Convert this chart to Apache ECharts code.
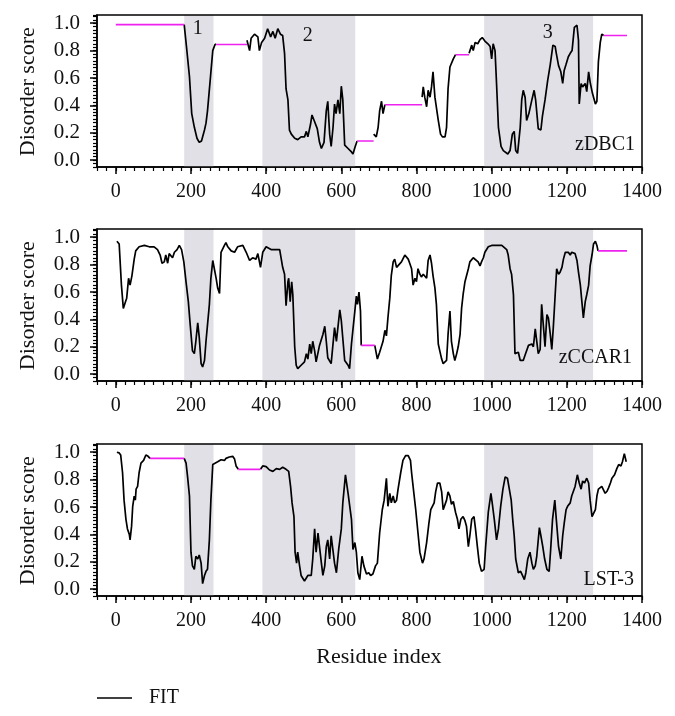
<!DOCTYPE html>
<html>
<head>
<meta charset="utf-8">
<script src="https://cdn.jsdelivr.net/npm/echarts@6/dist/echarts.min.js"></script>
<style>html,body{margin:0;padding:0;background:#fff}#c{width:675px;height:716px}</style>
</head>
<body>
<div id="c"></div>
<script>
// ---- data ----
const panelNames = ['zDBC1', 'zCCAR1', 'LST-3'];
const xTickLabels = [0, 200, 400, 600, 800, 1000, 1200, 1400];
const yTickLabels = [0, 0.2, 0.4, 0.6, 0.8, 1.0];
const domains = [[182, 260, '1'], [390, 637, '2'], [980, 1270, '3']];
const domainLabelPos = [[218, 0.96], [511, 0.91], [1149, 0.93]];

const dbc1 = [
[182,.99],[188,.83],[196,.61],[202,.34],[209,.24],[216,.16],[222,.13],[228,.14],[236,.22],[240,.27],[244,.36],[252,.61],[258,.80],[264,.845],[267,.845],
null,
[349,.876],[356,.80],[360,.89],[364,.88],[369,.92],[378,.90],[382,.80],[388,.86],[396,.89],[404,.96],[412,.90],[418,.94],[424,.89],[431,.96],[438,.92],[444,.91],[449,.78],[453,.52],[458,.44],[462,.22],[467,.19],[476,.16],[484,.15],[493,.17],[502,.17],[507,.21],[511,.17],[518,.26],[522,.33],[529,.28],[536,.23],[542,.13],[547,.085],[554,.13],[560,.36],[564,.43],[569,.19],[573,.10],[578,.24],[582,.41],[586,.34],[591,.44],[596,.34],[600,.54],[604,.44],[609,.11],[618,.085],[627,.06],[631,.045],[637,.10],[642,.14],
null,
[686,.19],[693,.17],[698,.24],[702,.36],[707,.43],[711,.34],[716,.405],
null,
[815,.46],[818,.535],[822,.46],[827,.39],[831,.51],[836,.46],[840,.535],[844,.645],[849,.46],[858,.29],[864,.19],[869,.17],[876,.17],[880,.24],[884,.52],[889,.68],[898,.74],[904,.77],
null,
[940,.78],[947,.84],[951,.80],[956,.86],[963,.85],[969,.88],[975,.895],[982,.87],[990,.85],[996,.83],[1000,.74],[1004,.85],[1009,.80],[1013,.56],[1018,.24],[1025,.10],[1031,.07],[1036,.08],[1043,.045],[1049,.07],[1055,.19],[1060,.21],[1064,.07],[1069,.05],[1076,.24],[1080,.44],[1084,.51],[1089,.46],[1093,.29],[1099,.34],[1107,.44],[1113,.51],[1117,.44],[1124,.23],[1131,.22],[1135,.32],[1142,.44],[1149,.58],[1156,.70],[1163,.84],[1169,.83],[1172,.78],[1178,.69],[1184,.645],[1189,.56],[1193,.655],[1198,.70],[1204,.755],[1209,.78],[1214,.80],[1218,.80],[1220,.97],[1227,.985],[1231,.875],[1233,.41],[1238,.56],[1242,.535],[1249,.56],[1253,.50],[1258,.645],[1262,.57],[1268,.49],[1276,.41],[1280,.43],[1284,.72],[1289,.86],[1293,.92],[1298,.91]
];
const dbc1Missing = [[0,182,.99],[267,349,.845],[642,686,.14],[716,815,.405],[904,940,.77],[1298,1360,.91]];

const ccar1 = [
[3,.97],[9,.95],[12,.95],[15,.65],[20,.48],[26,.53],[29,.555],[34,.70],[38,.65],[43,.72],[49,.84],[53,.90],[62,.93],[76,.94],[89,.93],[102,.93],[111,.91],[118,.87],[123,.81],[129,.82],[133,.87],[138,.81],[142,.88],[147,.87],[151,.85],[156,.89],[163,.91],[169,.94],[175,.91],[181,.82],[187,.67],[193,.53],[198,.36],[204,.17],[209,.15],[213,.24],[218,.375],[222,.27],[227,.077],[231,.053],[236,.10],[240,.24],[244,.36],[249,.51],[253,.70],[258,.83],[262,.83],[267,.70],[271,.63],[276,.59],[280,.89],[284,.88],[289,.94],[293,.96],[298,.93],[307,.90],[316,.89],[324,.93],[338,.94],[347,.89],[356,.83],[364,.85],[373,.84],[378,.88],[385,.78],[391,.89],[400,.93],[413,.91],[427,.91],[436,.91],[444,.78],[449,.73],[453,.50],[458,.675],[460,.70],[464,.53],[468,.675],[471,.58],[476,.20],[480,.065],[484,.04],[493,.065],[502,.09],[507,.15],[511,.11],[516,.22],[520,.15],[524,.24],[529,.17],[533,.09],[542,.21],[547,.22],[551,.29],[556,.35],[560,.24],[564,.12],[573,.077],[582,.34],[587,.24],[596,.47],[600,.39],[609,.10],[618,.065],[622,.04],[627,.22],[636,.46],[640,.57],[643,.51],[647,.60],[651,.46],[653,.21],
null,
[689,.21],[696,.11],[702,.16],[707,.17],[711,.24],[716,.32],[720,.28],[724,.41],[729,.555],[733,.72],[738,.82],[742,.84],[747,.78],[751,.77],[760,.82],[769,.87],[773,.86],[778,.84],[782,.81],[787,.77],[791,.65],[796,.70],[800,.675],[804,.77],[809,.73],[813,.71],[818,.73],[822,.72],[827,.70],[831,.83],[836,.87],[840,.81],[844,.72],[849,.63],[853,.51],[858,.22],[862,.17],[867,.11],[871,.077],[876,.065],[880,.10],[884,.29],[889,.46],[893,.24],[898,.15],[902,.10],[907,.15],[911,.20],[916,.29],[920,.48],[924,.58],[929,.675],[933,.675],[938,.77],[942,.82],[951,.85],[956,.84],[964,.82],[969,.79],[973,.82],[978,.85],[982,.89],[991,.93],[1000,.94],[1013,.94],[1027,.94],[1040,.91],[1044,.87],[1049,.77],[1053,.73],[1058,.58],[1062,.15],[1067,.14],[1071,.16],[1076,.10],[1080,.09],[1084,.10],[1089,.14],[1098,.21],[1102,.20],[1107,.22],[1111,.20],[1116,.33],[1120,.24],[1124,.15],[1129,.18],[1133,.51],[1138,.34],[1142,.20],[1147,.435],[1151,.41],[1156,.29],[1160,.18],[1164,.34],[1169,.58],[1173,.77],[1178,.73],[1182,.745],[1187,.78],[1191,.84],[1196,.89],[1200,.90],[1204,.89],[1209,.87],[1213,.89],[1218,.90],[1222,.88],[1227,.83],[1231,.745],[1236,.65],[1240,.53],[1244,.41],[1249,.53],[1253,.58],[1258,.65],[1262,.79],[1267,.87],[1271,.95],[1276,.97],[1280,.94],[1283,.90]
];
const ccar1Missing = [[653,689,.21],[1283,1360,.90]];

const lst3 = [
[3,1.0],[9,.995],[13,.98],[18,.85],[22,.65],[27,.51],[31,.44],[36,.40],[38,.36],[42,.46],[45,.605],[49,.68],[52,.65],[54,.73],[58,.75],[62,.85],[67,.92],[74,.94],[80,.98],[86,.97],[91,.955],
null,
[182,.955],[187,.92],[191,.82],[196,.68],[200,.27],[204,.17],[209,.145],[213,.24],[218,.22],[222,.25],[227,.19],[231,.04],[236,.10],[240,.13],[244,.145],[249,.36],[253,.65],[258,.91],[262,.92],[271,.93],[280,.945],[289,.94],[293,.955],[302,.965],[311,.97],[316,.95],[320,.90],[326,.875],
null,
[385,.875],[391,.90],[400,.895],[409,.87],[418,.86],[427,.88],[436,.875],[444,.89],[453,.875],[460,.86],[465,.75],[469,.63],[474,.53],[477,.27],[481,.19],[484,.27],[489,.17],[493,.10],[502,.06],[511,.10],[520,.10],[524,.22],[529,.44],[533,.27],[538,.41],[542,.31],[547,.19],[551,.10],[556,.17],[560,.31],[564,.36],[569,.22],[573,.39],[582,.19],[587,.12],[593,.29],[600,.44],[604,.63],[611,.835],[618,.70],[627,.51],[631,.29],[636,.34],[640,.27],[644,.12],[649,.07],[655,.24],[660,.17],[667,.11],[673,.12],[678,.10],[684,.11],[691,.17],[696,.19],[702,.41],[709,.58],[714,.65],[720,.81],[724,.605],[729,.70],[733,.63],[738,.68],[742,.63],[747,.65],[751,.73],[758,.85],[764,.94],[771,.975],[778,.975],[784,.94],[787,.85],[791,.75],[798,.58],[804,.41],[809,.27],[816,.19],[820,.22],[827,.34],[833,.48],[838,.58],[842,.59],[847,.63],[851,.71],[856,.775],[862,.775],[867,.71],[871,.58],[876,.58],[880,.65],[884,.71],[889,.68],[893,.62],[898,.64],[904,.56],[909,.51],[913,.44],[918,.51],[924,.53],[929,.50],[933,.46],[938,.31],[942,.39],[947,.51],[953,.53],[957,.44],[962,.31],[967,.19],[973,.13],[980,.145],[984,.31],[991,.56],[998,.70],[1001,.64],[1007,.51],[1013,.36],[1018,.44],[1024,.605],[1030,.73],[1036,.82],[1042,.81],[1047,.73],[1052,.65],[1056,.51],[1060,.39],[1064,.22],[1071,.12],[1077,.13],[1082,.10],[1087,.07],[1091,.12],[1096,.22],[1102,.27],[1107,.19],[1111,.145],[1116,.17],[1120,.24],[1127,.45],[1131,.39],[1136,.31],[1141,.22],[1147,.145],[1153,.13],[1157,.29],[1162,.51],[1168,.65],[1172,.51],[1178,.31],[1184,.22],[1189,.39],[1193,.48],[1198,.58],[1202,.605],[1209,.63],[1213,.68],[1218,.68],[1222,.75],[1228,.835],[1233,.775],[1238,.73],[1242,.79],[1247,.775],[1253,.81],[1258,.775],[1262,.65],[1267,.53],[1271,.52],[1276,.58],[1280,.68],[1284,.73],[1289,.72],[1293,.75],[1298,.74],[1302,.70],[1307,.715],[1311,.74],[1316,.775],[1320,.81],[1327,.835],[1333,.88],[1338,.91],[1344,.90],[1348,.93],[1353,.99],[1356,.98],[1358,.93]
];
const lst3Missing = [[91,182,.955],[326,385,.875]];

const curves = [dbc1, ccar1, lst3];
const missing = [dbc1Missing, ccar1Missing, lst3Missing];

// ---- layout / style ----
const FONT = 'Liberation Serif';
const gridTops = [15, 229, 444];
const GRID_LEFT = 97, GRID_W = 545, GRID_H = 152;
const XMIN = -50, XMAX = 1400, YMIN = -0.05, YMAX = 1.06;
const pxX = GRID_W / (XMAX - XMIN), pxY = GRID_H / (YMAX - YMIN);
// an aligned (invisible) grid that carries the major ticks and labels
const majLeft = GRID_LEFT + (0 - XMIN) * pxX;
const majW = (1400 - 0) * pxX;
const majTopOff = (YMAX - 1) * pxY;
const majH = 1 * pxY;
const labelPos = [[635, 155], [632, 368], [634, 590]];

const grids = [], xAxes = [], yAxes = [], series = [], graphics = [];
for (let i = 0; i < 3; i++) {
  grids.push({left: GRID_LEFT, top: gridTops[i], width: GRID_W, height: GRID_H, show: true,
    borderColor: '#000', borderWidth: 1.5, backgroundColor: 'transparent', z: 5});
  // minor-tick axes of the plotting grid
  xAxes.push({gridIndex: i, type: 'value', position: 'bottom', min: XMIN, max: XMAX, interval: 25,
    axisLine: {show: true, onZero: false, lineStyle: {color: '#000', width: 1.5}}, splitLine: {show: false},
    axisTick: {show: true, length: 4, lineStyle: {color: '#000', width: 1.2}},
    axisLabel: {show: false}});
  yAxes.push({gridIndex: i, type: 'value', position: 'left', min: YMIN, max: YMAX, interval: 0.025,
    axisLine: {show: true, onZero: false, lineStyle: {color: '#000', width: 1.5}}, splitLine: {show: false},
    axisTick: {show: true, length: 4, lineStyle: {color: '#000', width: 1.2}},
    axisLabel: {show: false}});

  const s = {
    name: 'FIT', type: 'line', xAxisIndex: i, yAxisIndex: i,
    data: curves[i].map(p => p === null ? [null, null] : p),
    symbol: 'none', connectNulls: false, silent: true, z: 3,
    lineStyle: {color: '#000', width: 1.7}, itemStyle: {color: '#000'},
    markArea: {silent: true, itemStyle: {color: '#e1e0e6'},
      data: domains.map(d => [{xAxis: d[0]}, {xAxis: d[1]}])}
  };
  if (i === 0) {
    s.markPoint = {silent: true, symbol: 'circle', symbolSize: 1,
      itemStyle: {color: 'rgba(0,0,0,0)'},
      label: {show: true, position: 'inside', formatter: '{b}', fontSize: 20, fontFamily: FONT, color: '#111'},
      data: domains.map((d, k) => ({name: d[2], coord: domainLabelPos[k]}))};
  }
  series.push(s);

  const md = [];
  missing[i].forEach(m => { md.push([m[0], m[2]], [m[1], m[2]], [null, null]); });
  series.push({name: 'gap', type: 'line', xAxisIndex: i, yAxisIndex: i, data: md,
    symbol: 'none', connectNulls: false, silent: true, z: 4,
    lineStyle: {color: '#ee22ee', width: 1.6}});

  graphics.push({type: 'text', x: labelPos[i][0], y: labelPos[i][1], z: 10,
    style: {text: panelNames[i], font: '20px "' + FONT + '"', fill: '#111',
      textAlign: 'right', textVerticalAlign: 'bottom'}});
}
// major-tick grids
for (let i = 0; i < 3; i++) {
  grids.push({left: majLeft, top: gridTops[i] + majTopOff, width: majW, height: majH, show: false});
  xAxes.push({gridIndex: 3 + i, type: 'value', position: 'bottom', min: 0, max: 1400, interval: 200,
    offset: GRID_H - majTopOff - majH,
    axisLine: {show: false, onZero: false}, splitLine: {show: false},
    axisTick: {show: true, length: 7, lineStyle: {color: '#000', width: 1.5}},
    axisLabel: {margin: 15, fontSize: 20, fontFamily: FONT, color: '#111', formatter: v => String(v)},
    name: i === 2 ? 'Residue index' : '', nameLocation: 'middle', nameGap: 50,
    nameTextStyle: {fontSize: 22, fontFamily: FONT, color: '#111'}});
  yAxes.push({gridIndex: 3 + i, type: 'value', position: 'left', min: 0, max: 1, interval: 0.2,
    offset: majLeft - GRID_LEFT,
    axisLine: {show: false, onZero: false}, splitLine: {show: false},
    axisTick: {show: true, length: 7, lineStyle: {color: '#000', width: 1.5}},
    axisLabel: {margin: 17, fontSize: 21, fontFamily: FONT, color: '#111', formatter: v => v.toFixed(1)},
    name: 'Disorder score', nameLocation: 'middle', nameGap: 58,
    nameTextStyle: {fontSize: 22, fontFamily: FONT, color: '#111'}});
}

const chart = echarts.init(document.getElementById('c'), null, {renderer: 'canvas'});
chart.setOption({
  animation: false,
  backgroundColor: '#fff',
  grid: grids, xAxis: xAxes, yAxis: yAxes, series: series,
  graphic: graphics,
  legend: {data: [{name: 'FIT', icon: 'path://M0,0H35V1.5H0Z'}], left: 97, top: 688, padding: 0,
    itemWidth: 35, itemHeight: 1.5, selectedMode: false,
    textStyle: {fontSize: 20, fontFamily: FONT, color: '#111', padding: [0, 0, 0, 12]}}
});
</script>
</body>
</html>
